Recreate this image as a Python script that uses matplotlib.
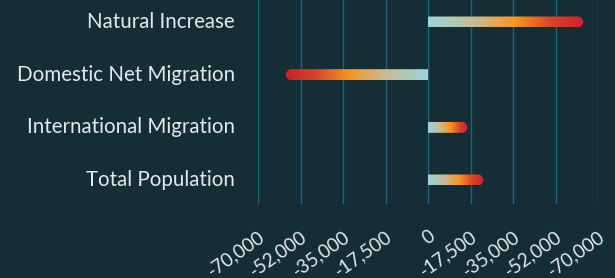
import numpy as np
import matplotlib
matplotlib.use("Agg")
import matplotlib.pyplot as plt
from matplotlib.colors import LinearSegmentedColormap
from matplotlib.patches import PathPatch
from matplotlib.path import Path
from matplotlib.transforms import IdentityTransform, ScaledTranslation

categories = ["Natural Increase", "Domestic Net Migration", "International Migration", "Total Population"]
values = [63900, -58500, 16200, 22800]
tick_values = [-70000, -52500, -35000, -17500, 0, 17500, 35000, 52500, 70000]
tick_labels = ["-70,000", "-52,000", "-35,000", "-17,500", "0", "-17,500", "-35,000", "-52,000", "-70,000"]

BG = "#152e36"
GRID = "#1d6679"
TEXT = "#e6e9ea"

cmap = LinearSegmentedColormap.from_list(
    "grad",
    [(0.0, "#9ad6da"), (0.3, "#c8bb96"), (0.56, "#f6961f"), (0.8, "#d8412c"), (1.0, "#cb222b")],
)

W, H, DPI = 615, 278, 100
fig = plt.figure(figsize=(W / DPI, H / DPI), dpi=DPI, facecolor=BG)
ax = fig.add_axes([258 / W, 1 - 204 / H, (598 - 258) / W, 204 / H])
ax.set_facecolor(BG)
XLIM = (-70000, 70000)
ppu = (180 - 22) / 3
YLIM = (3 + (204 - 180) / ppu, -22 / ppu)
ax.set_xlim(*XLIM)
ax.set_ylim(*YLIM)

for s in ax.spines.values():
    s.set_visible(False)
ax.set_xticks(tick_values)
ax.set_xticklabels(tick_labels, rotation=35, ha="right", va="top",
                   rotation_mode="anchor", color=TEXT, fontsize=13.5, family="Lato")
ax.tick_params(axis="x", length=0, pad=17)
ax.set_yticks(range(len(categories)))
ax.set_yticklabels(categories, color=TEXT, fontsize=14.8, family="Lato")
ax.tick_params(axis="y", length=0, pad=16.5)
up = ScaledTranslation(0, 2 / DPI, fig.dpi_scale_trans)
for lbl in ax.get_yticklabels():
    lbl.set_transform(lbl.get_transform() + up)
ax.grid(axis="x", color=GRID, linewidth=1.0)
ax.set_axisbelow(True)

bar_px = 11
half_data = (bar_px / 2) / ppu
fig.canvas.draw()

grad = np.linspace(0, 1, 256).reshape(1, -1)
for i, v in enumerate(values):
    im = ax.imshow(grad, cmap=cmap, aspect="auto", interpolation="bilinear",
                   extent=[0, v, i + half_data, i - half_data], zorder=3)
    zx, yc = ax.transData.transform((0, i))
    tx, _ = ax.transData.transform((v, i))
    r = bar_px / 2
    s = 1 if tx > zx else -1
    cx = tx - s * r
    theta = np.linspace(-np.pi / 2, np.pi / 2, 40)
    arc_x = cx + s * r * np.cos(theta)
    arc_y = yc + r * np.sin(theta)
    verts = [(zx, yc - r)] + list(zip(arc_x, arc_y)) + [(zx, yc + r), (zx, yc - r)]
    codes = [Path.MOVETO] + [Path.LINETO] * (len(verts) - 2) + [Path.CLOSEPOLY]
    clip = PathPatch(Path(verts, codes), transform=IdentityTransform())
    im.set_clip_path(clip)

ax.set_xlim(*XLIM)
ax.set_ylim(*YLIM)
fig.savefig("out.png", dpi=DPI, facecolor=BG)
